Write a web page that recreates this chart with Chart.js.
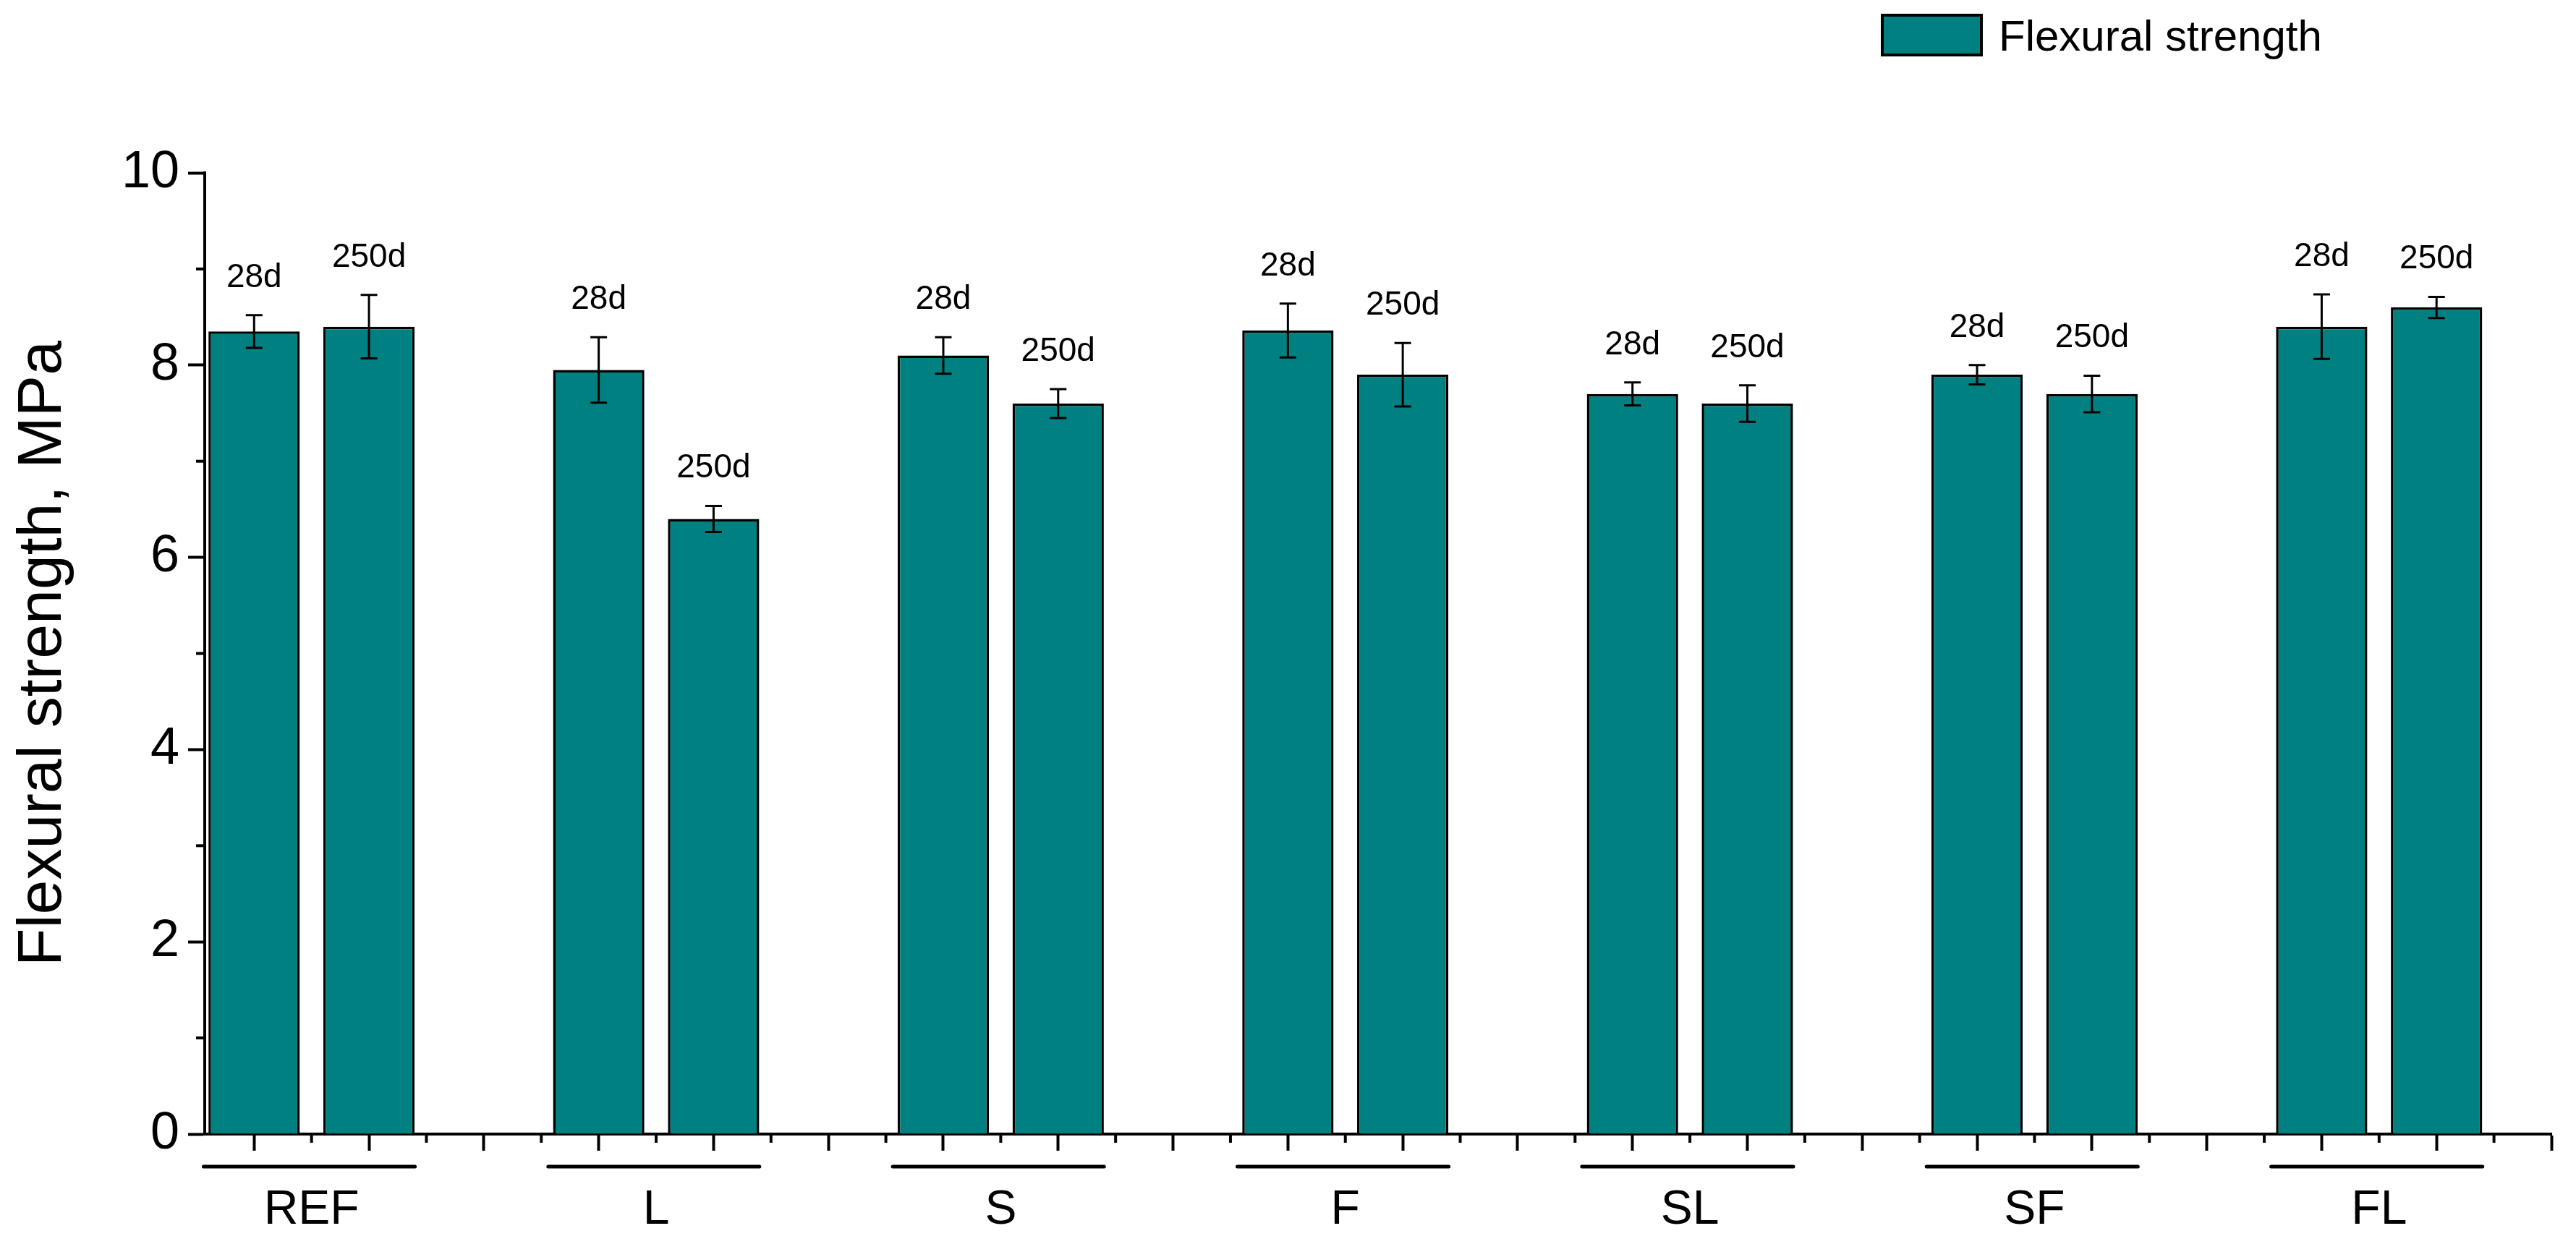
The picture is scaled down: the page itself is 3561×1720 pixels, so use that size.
<!DOCTYPE html>
<html>
<head>
<meta charset="utf-8">
<script src="https://cdn.jsdelivr.net/npm/chart.js@4.4.1/dist/chart.umd.min.js"></script>
<style>
html,body{margin:0;padding:0;background:#fff;}
#wrap{width:3561px;height:1720px;position:relative;}
</style>
</head>
<body>
<div id="wrap"><canvas id="c"></canvas></div>
<script>
// ---- data ----
const groups = ['REF', 'L', 'S', 'F', 'SL', 'SF', 'FL'];
const ages = ['28d', '250d'];
const strength28  = [8.35, 7.95, 8.10, 8.36, 7.70, 7.90, 8.40];
const strength250 = [8.40, 6.40, 7.60, 7.90, 7.60, 7.70, 8.60];
const err28  = [0.17, 0.34, 0.19, 0.28, 0.12, 0.10, 0.335];
const err250 = [0.33, 0.135, 0.15, 0.33, 0.19, 0.19, 0.11];
const yTicks = [0, 2, 4, 6, 8, 10];
const seriesName = 'Flexural strength';
const yTitle = 'Flexural strength, MPa';

// ---- styles ----
const FONT = "'Liberation Sans', Arial, Helvetica, sans-serif";
const TEAL = '#008080';

const slotsPerGroup = 3;
const slotCount = groups.length * slotsPerGroup;
const points = [];
groups.forEach((g, i) => {
  points.push({x: slotsPerGroup * i + 1, y: strength28[i], err: err28[i], age: ages[0]});
  points.push({x: slotsPerGroup * i + 2, y: strength250[i], err: err250[i], age: ages[1]});
});

const decor = {
  id: 'decor',
  afterDraw(chart) {
    const ctx = chart.ctx;
    const xs = chart.scales.x, ys = chart.scales.y;
    const area = chart.chartArea;
    ctx.save();
    ctx.strokeStyle = '#000';
    ctx.fillStyle = '#000';

    // minor ticks, y
    ctx.lineWidth = 4;
    ctx.lineCap = 'butt';
    for (let k = 0; k < yTicks.length - 1; k++) {
      const v = (yTicks[k] + yTicks[k + 1]) / 2;
      const py = ys.getPixelForValue(v);
      ctx.beginPath();
      ctx.moveTo(area.left - 12, py);
      ctx.lineTo(area.left, py);
      ctx.stroke();
    }
    // minor ticks, x
    for (let s = 1; s < slotCount; s++) {
      const px = xs.getPixelForValue(s + 0.5);
      ctx.beginPath();
      ctx.moveTo(px, area.bottom);
      ctx.lineTo(px, area.bottom + 12);
      ctx.stroke();
    }

    // error bars + age labels
    ctx.font = '46px ' + FONT;
    ctx.textAlign = 'center';
    ctx.textBaseline = 'alphabetic';
    points.forEach(p => {
      const px = xs.getPixelForValue(p.x);
      const top = ys.getPixelForValue(p.y + p.err);
      const bot = ys.getPixelForValue(p.y - p.err);
      ctx.lineWidth = 3;
      ctx.beginPath();
      ctx.moveTo(px, top); ctx.lineTo(px, bot);
      ctx.moveTo(px - 11.5, top); ctx.lineTo(px + 11.5, top);
      ctx.moveTo(px - 11.5, bot); ctx.lineTo(px + 11.5, bot);
      ctx.stroke();
      ctx.fillText(p.age, px, top - 39);
    });

    // group brackets + labels
    ctx.font = '66px ' + FONT;
    groups.forEach((g, i) => {
      const a = slotsPerGroup * i + 1, b = slotsPerGroup * i + 2;
      const x1 = xs.getPixelForValue(a - 0.44);
      const x2 = xs.getPixelForValue(b + 0.40);
      const by = area.bottom + 45;
      ctx.lineWidth = 5;
      ctx.lineCap = 'round';
      ctx.beginPath();
      ctx.moveTo(x1, by); ctx.lineTo(x2, by);
      ctx.stroke();
      ctx.fillText(g, xs.getPixelForValue((a + b) / 2), area.bottom + 124);
    });

    // legend
    const ds = chart.data.datasets[0];
    ctx.fillStyle = ds.backgroundColor;
    ctx.fillRect(2602, 21, 137, 55);
    ctx.lineWidth = 4;
    ctx.lineCap = 'butt';
    ctx.strokeStyle = '#000';
    ctx.strokeRect(2602, 21, 137, 55);
    ctx.fillStyle = '#000';
    ctx.font = '60px ' + FONT;
    ctx.textAlign = 'left';
    ctx.fillText(ds.label, 2763, 70);
    ctx.restore();
  }
};

new Chart(document.getElementById('c'), {
  type: 'bar',
  data: {
    datasets: [{
      label: seriesName,
      data: points,
      backgroundColor: TEAL,
      borderColor: '#000',
      borderWidth: 3.5,
      borderSkipped: 'start',
      barPercentage: 0.795,
      categoryPercentage: 1.0
    }]
  },
  options: {
    responsive: true,
    maintainAspectRatio: false,
    animation: false,
    layout: {padding: {top: 239, right: 34, left: 0, bottom: 0}},
    plugins: {legend: {display: false}, tooltip: {enabled: false}},
    scales: {
      x: {
        type: 'linear',
        min: 0.57,
        max: slotCount,
        offset: false,
        z: 1,
        afterBuildTicks(scale) {
          const t = [];
          for (let s = 1; s <= slotCount; s++) t.push({value: s});
          scale.ticks = t;
        },
        afterFit(scale) { scale.height = 152; },
        ticks: {display: false},
        grid: {display: true, offset: false, drawOnChartArea: false, drawTicks: true, tickLength: 23, tickWidth: 4, tickColor: '#000'},
        border: {display: true, color: '#000', width: 4}
      },
      y: {
        type: 'linear',
        min: 0,
        max: 10,
        z: 1,
        afterBuildTicks(scale) { scale.ticks = yTicks.map(v => ({value: v})); },
        afterFit(scale) { scale.width = 283; },
        ticks: {color: '#000', padding: 12, font: {family: FONT, size: 72}},
        grid: {display: true, drawOnChartArea: false, drawTicks: true, tickLength: 23, tickWidth: 4, tickColor: '#000'},
        border: {display: true, color: '#000', width: 4},
        title: {display: true, text: yTitle, color: '#000', font: {family: FONT, size: 86, lineHeight: 1.2}, padding: {top: 9, bottom: 0}}
      }
    }
  },
  plugins: [decor]
});
</script>
</body>
</html>
